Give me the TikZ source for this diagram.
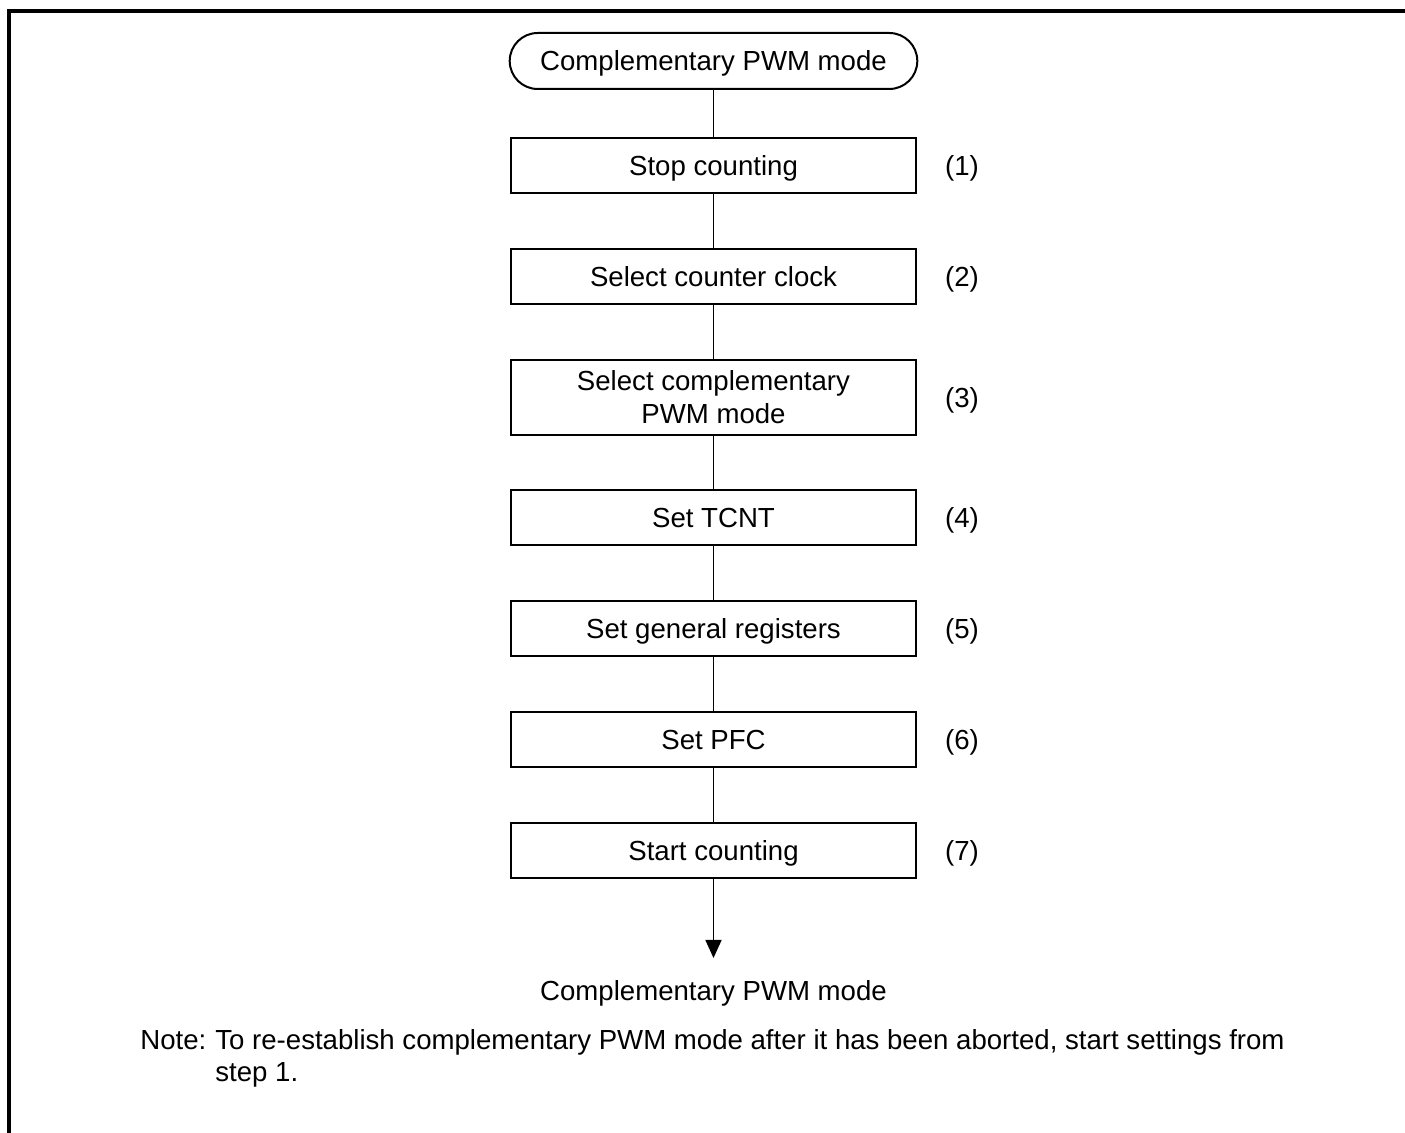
\documentclass[tikz,border=0pt]{standalone}
\usepackage{fontspec}
\setmainfont{Liberation Sans}
\usepackage{tikz}
\usetikzlibrary{arrows.meta, positioning}

\tikzset{
  stepbox/.style={draw, line width=1pt, minimum width=202.3pt, minimum height=27.5pt, inner sep=0pt, text depth=0pt, align=center},
  termbox/.style={draw, line width=1pt, rounded corners=14pt, minimum width=203.8pt, minimum height=28pt, inner sep=0pt, text depth=0pt},
  stepnum/.style={inner sep=0pt, text depth=0pt, right=14pt of #1},
  flowline/.style={line width=0.8pt},
}

\begin{document}
\begin{tikzpicture}[x=0.5pt, y=-0.5pt, font=\fontsize{13.8}{16.3}\selectfont]
  \useasboundingbox (0,0) rectangle (1405,1133);
  % frame
  \draw[line width=2pt] (9,1133) -- (9,11.5) -- (1405,11.5);

  % flow
  \node[termbox] (start) at (713.5,61) {Complementary PWM mode};
  \node[stepbox] (b1) at (713.5,165.8) {Stop counting};
  \node[stepbox] (b2) at (713.5,277) {Select counter clock};
  \node[stepbox, minimum height=37.5pt] (b3) at (713.5,397.3) {Select complementary\\PWM mode};
  \node[stepbox] (b4) at (713.5,517.7) {Set TCNT};
  \node[stepbox] (b5) at (713.5,628.8) {Set general registers};
  \node[stepbox] (b6) at (713.5,740) {Set PFC};
  \node[stepbox] (b7) at (713.5,851) {Start counting};

  \node[stepnum=b1] (n1) {(1)};
  \node[stepnum=b2] (n2) {(2)};
  \node[stepnum=b3] (n3) {(3)};
  \node[stepnum=b4] (n4) {(4)};
  \node[stepnum=b5] (n5) {(5)};
  \node[stepnum=b6] (n6) {(6)};
  \node[stepnum=b7] (n7) {(7)};

  \draw[flowline] (start) -- (b1);
  \draw[flowline] (b1) -- (b2);
  \draw[flowline] (b2) -- (b3);
  \draw[flowline] (b3) -- (b4);
  \draw[flowline] (b4) -- (b5);
  \draw[flowline] (b5) -- (b6);
  \draw[flowline] (b6) -- (b7);

  \coordinate (tip) at (713.5,958);
  \draw[flowline, -{Triangle[width=8pt, length=9pt]}] (b7) -- (tip);
  \node[inner sep=0pt, text depth=0pt] (end) at (713.5,991) {Complementary PWM mode};

  % note
  \node[inner sep=0pt, anchor=base west] (notelbl) at (140,1050) {Note:};
  \node[inner sep=0pt, anchor=base west, align=left] (notetxt) at (215,1082)
    {To re-establish complementary PWM mode after it has been aborted, start settings from\\step 1.};
\end{tikzpicture}
\end{document}
